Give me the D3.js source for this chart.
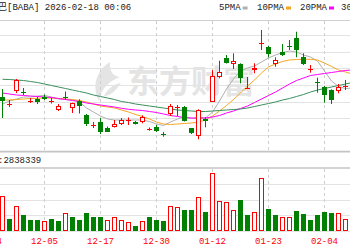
<!DOCTYPE html>
<html><head><meta charset="utf-8">
<script src="https://cdn.jsdelivr.net/npm/d3@7"></script>
<style>html,body{margin:0;padding:0;background:#fff;overflow:hidden}</style>
</head><body><svg id="c" width="350" height="250"></svg>
<script>
const leadDates = ["11-24","11-25"];
const dates = ["11-26","11-28","12-01","12-02","12-03","12-04","12-05","12-08","12-09","12-10",
"12-11","12-12","12-15","12-16","12-17","12-18","12-19","12-22","12-23","12-24",
"12-26","12-29","12-30","12-31","01-02","01-05","01-06","01-07","01-08","01-09",
"01-12","01-13","01-14","01-15","01-16","01-20","01-21","01-22","01-23","01-26",
"01-27","01-28","01-29","01-30","02-02","02-03","02-04","02-05","02-06","02-09","02-10"];
const open = [161.40,159.15,163.05,163.05,160.14,160.80,161.49,160.14,157.50,161.70,
157.95,160.29,156.00,152.85,153.99,152.25,152.49,153.45,154.20,153.90,
153.90,151.56,152.31,150.36,156.30,158.40,158.49,152.01,149.70,154.71,
159.99,167.49,173.01,171.30,171.30,164.10,169.29,177.54,176.49,171.30,
174.99,176.85,179.01,173.49,169.65,166.05,164.49,163.50,163.20,164.46,165.99];
const close = [160.20,159.45,166.35,162.75,160.44,160.05,160.95,160.44,158.70,161.25,
159.51,158.70,153.30,153.15,150.90,151.20,153.30,154.50,154.65,153.39,
155.31,151.86,151.05,150.12,158.70,158.70,154.29,150.51,157.50,153.99,
167.70,168.99,171.51,172.29,167.10,164.40,170.01,177.84,174.51,172.35,
174.00,176.55,175.50,171.30,169.95,165.60,162.00,160.50,164.49,164.76,168.00];
const high = [163.80,160.50,166.80,164.10,161.10,161.40,162.15,161.10,159.30,163.05,
159.69,160.71,156.30,153.90,155.10,152.55,154.50,155.10,155.25,154.20,
155.91,152.25,153.00,150.90,159.30,159.00,158.70,152.10,157.71,155.31,
169.50,172.29,174.00,174.51,171.51,167.40,171.51,181.50,176.70,173.31,
177.30,178.50,180.99,174.51,171.00,167.19,164.70,163.71,165.30,166.50,168.60];
const low = [155.10,158.40,162.60,162.00,159.60,159.30,160.50,159.45,157.20,160.50,
156.60,156.45,152.70,152.10,150.30,150.90,152.25,153.00,153.00,153.15,
153.51,151.29,150.90,149.49,155.70,155.70,154.05,150.30,148.71,152.31,
159.90,167.01,171.45,169.80,165.51,163.95,168.51,175.50,173.31,170.49,
173.70,175.50,173.31,171.00,168.69,162.69,159.69,159.30,162.51,163.50,165.60];
const volume = [13.33,4.46,9.52,6.10,4.19,4.19,3.81,4.46,3.81,6.74,
5.22,4.19,6.97,5.45,5.22,4.19,5.45,4.19,3.54,2.02,
3.81,5.45,4.19,3.81,9.52,9.26,8.00,8.00,13.07,7.35,
21.98,11.54,10.93,8.00,11.81,6.21,7.12,20.08,8.38,6.21,
5.45,5.45,7.62,6.48,4.19,6.21,7.24,6.97,6.86,4.46,6.86];
const volumeUp = [1,0,1,0,0,0,1,0,0,1,0,0,0,0,0,1,1,1,1,0,1,0,0,0,1,
1,0,0,1,0,1,1,1,1,0,0,1,1,0,0,1,1,0,0,0,0,0,0,1,1,1];
const ma5 = [159.30,160.20,160.80,161.40,161.40,161.70,161.85,161.40,160.80,160.65,
160.50,159.90,158.10,156.90,155.70,154.80,154.50,154.50,154.50,154.50,
154.50,154.05,153.30,152.85,153.90,154.80,155.40,154.95,155.40,155.10,
156.90,160.20,163.80,166.80,169.20,170.10,170.70,171.90,173.10,174.00,
174.75,175.20,174.90,174.00,173.40,172.20,169.20,166.20,164.55,163.95,164.10];
const ma10 = [160.50,160.50,160.65,160.80,160.95,161.01,161.10,161.10,160.95,160.80,
160.65,160.35,159.90,159.30,158.70,158.40,158.10,157.50,156.90,156.15,
155.55,154.80,153.90,153.30,153.15,153.30,153.45,153.60,153.90,154.50,
155.70,157.20,158.85,160.65,162.60,164.70,166.50,168.60,170.40,171.30,
172.05,172.50,172.65,172.71,172.71,172.50,171.60,170.55,169.50,168.90,168.30];
const ma20 = [162.60,162.30,162.00,161.85,161.70,161.55,161.40,161.25,160.95,160.65,
160.35,160.05,159.60,159.30,159.00,158.70,158.40,158.01,157.71,157.50,
157.35,157.05,156.75,156.30,155.85,155.55,155.25,155.10,155.01,155.10,
155.40,155.85,156.60,157.20,157.95,158.70,159.75,160.80,161.85,162.90,
164.10,165.30,166.35,167.10,167.85,168.15,168.45,168.75,169.05,169.35,169.50];
const ma30 = [166.71,166.65,166.50,166.35,166.05,165.75,165.30,164.85,164.40,163.95,
163.50,163.05,162.60,162.00,161.55,161.10,160.65,160.05,159.75,159.30,
159.00,158.70,158.40,158.10,157.80,157.50,157.35,157.20,157.05,157.05,
157.20,157.35,157.50,157.65,157.80,158.10,158.55,159.00,159.45,159.90,
160.50,160.95,161.55,162.15,162.90,163.50,163.95,164.40,164.85,165.30,165.75];
const tickLabels = ["11-24","12-05","12-17","12-30","01-12","01-23","02-04"];
const priceTicks = [150,155,160,165,170,175,180];
const volumeTicks = [6,12,18];
const titleText = "巴[BABA] 2026-02-18 00:06";
const volumeText = ":2838339";
const maNames = ["5PMA","10PMA","20PMA","30PMA"];
const watermark = "东方财富";

const RED = "#ff0000", GREEN = "#008000";
const maColors = ["#b0b0b0","#f5a623","#ff00ff","#3a8f5c"];
const maSeries = [ma5, ma10, ma20, ma30];
const mono = "'Liberation Mono','Noto Sans CJK SC',monospace";

const svg = d3.select("#c");
const allDates = leadDates.concat(dates);
const x = d3.scalePoint().domain(allDates).range([-12, 352]);
const y = d3.scaleLinear().domain([145, 185]).range([151.67, 18.33]);
const yv = d3.scaleLinear().domain([0, 24]).range([231, 168]);

svg.append("rect").attr("width",350).attr("height",250).attr("fill","#fff");

// watermark
const wm = svg.append("g").attr("opacity",0.55);
wm.append("path")
  .attr("d","M110,62 C97,70 91,86 99,101 C101,90 107,82 120,77 C113,76 109,71 110,62 Z M104,96 C108,88 114,84 121,83 C116,90 111,96 104,96 Z")
  .attr("fill","#cfcfcf");
wm.append("text").attr("x",127).attr("y",93)
  .attr("font-family","'Noto Sans CJK SC'").attr("font-weight","bold")
  .attr("font-size",32).attr("fill","#cfcfcf").text(watermark);

// price grid
svg.append("g").selectAll("line").data(priceTicks).join("line")
  .attr("x1",0).attr("x2",350)
  .attr("y1",d=>Math.round(y(d))+0.5).attr("y2",d=>Math.round(y(d))+0.5)
  .attr("stroke","#e3e3e3").attr("stroke-width",1);
svg.append("line").attr("x1",0).attr("x2",350).attr("y1",20.5).attr("y2",20.5)
  .attr("stroke","#d0d0d0");
// volume grid
svg.append("g").selectAll("line").data(volumeTicks).join("line")
  .attr("x1",0).attr("x2",350)
  .attr("y1",d=>Math.round(yv(d))+0.5).attr("y2",d=>Math.round(yv(d))+0.5)
  .attr("stroke","#e3e3e3");
svg.append("line").attr("x1",0).attr("x2",350).attr("y1",231.5).attr("y2",231.5).attr("stroke","#e3e3e3");
// header band of volume
[y(145), yv(24)].forEach(v=>{
  svg.append("line").attr("x1",0).attr("x2",350).attr("y1",v).attr("y2",v)
    .attr("stroke","#c4c4c4").attr("stroke-width",1.6);
});

// vertical dashed grid
const vg = svg.append("g");
tickLabels.forEach(t=>{
  const xx = Math.round(x(t)) + 0.5;
  vg.append("line").attr("x1",xx).attr("x2",xx).attr("y1",21).attr("y2",y(145)-1)
    .attr("stroke","#cfcfcf").attr("stroke-dasharray","3,3");
  vg.append("line").attr("x1",xx).attr("x2",xx).attr("y1",yv(24)+1).attr("y2",231)
    .attr("stroke","#cfcfcf").attr("stroke-dasharray","3,3");
});

// MA lines
maSeries.forEach((s,k)=>{
  svg.append("path").datum(s)
    .attr("fill","none").attr("stroke",maColors[k]).attr("stroke-width",1)
    .attr("d", d3.line().x((d,i)=>x(dates[i])+0.5).y(d=>y(d)));
});

// candles
const cg = svg.append("g");
dates.forEach((d,i)=>{
  const cx = Math.round(x(d));
  const up = close[i] >= open[i];
  const col = up ? RED : GREEN;
  cg.append("line").attr("x1",cx+0.5).attr("x2",cx+0.5)
    .attr("y1",y(high[i])).attr("y2",y(low[i])).attr("stroke",col).attr("stroke-width",1);
  const top = y(Math.max(open[i],close[i])), bot = y(Math.min(open[i],close[i]));
  const h = bot - top;
  if (h < 1.6) {
    const yy = Math.round((top+bot)/2)+0.5;
    cg.append("line").attr("x1",cx-2).attr("x2",cx+3).attr("y1",yy).attr("y2",yy)
      .attr("stroke",col).attr("stroke-width",1);
  } else if (up) {
    cg.append("rect").attr("x",cx-1.5).attr("y",Math.round(top)+0.5)
      .attr("width",4).attr("height",Math.max(1,Math.round(h)-1))
      .attr("fill","#fff").attr("stroke",col).attr("stroke-width",1);
  } else {
    cg.append("rect").attr("x",cx-2).attr("y",Math.round(top))
      .attr("width",5).attr("height",Math.max(1,Math.round(h)))
      .attr("fill",col);
  }
});

// volume bars
const vb = svg.append("g");
dates.forEach((d,i)=>{
  const cx = Math.round(x(d));
  const t = Math.round(yv(volume[i]));
  if (volumeUp[i]) {
    vb.append("rect").attr("x",cx-1.5).attr("y",t+0.5).attr("width",4).attr("height",231-t-1)
      .attr("fill","#fff").attr("stroke",RED).attr("stroke-width",1);
  } else {
    vb.append("rect").attr("x",cx-2).attr("y",t).attr("width",5).attr("height",231-t)
      .attr("fill",GREEN);
  }
});

// date labels
svg.append("g").selectAll("text").data(tickLabels).join("text")
  .attr("x",d=>x(d)+0.5).attr("y",244).attr("text-anchor","middle")
  .attr("font-family",mono).attr("font-size",9).attr("fill","#ff0000").text(d=>d);

// title
svg.append("text").attr("x",-2).attr("y",10).attr("font-family",mono)
  .attr("font-size",9).attr("fill","#222").text(titleText);
svg.append("text").attr("x",-2).attr("y",163).attr("font-family",mono)
  .attr("font-size",9).attr("fill","#222").text(volumeText);

// legend
const legX = [219, 257, 300, 341];
maNames.forEach((n,k)=>{
  const t = svg.append("text").attr("x",legX[k]).attr("y",10).attr("font-family",mono)
    .attr("font-size",9).attr("fill","#222").text(n);
  svg.append("rect").attr("x",legX[k] + n.length*5.4 + 2).attr("y",6.5)
    .attr("width",5).attr("height",3).attr("fill",maColors[k]);
});
</script></body></html>
